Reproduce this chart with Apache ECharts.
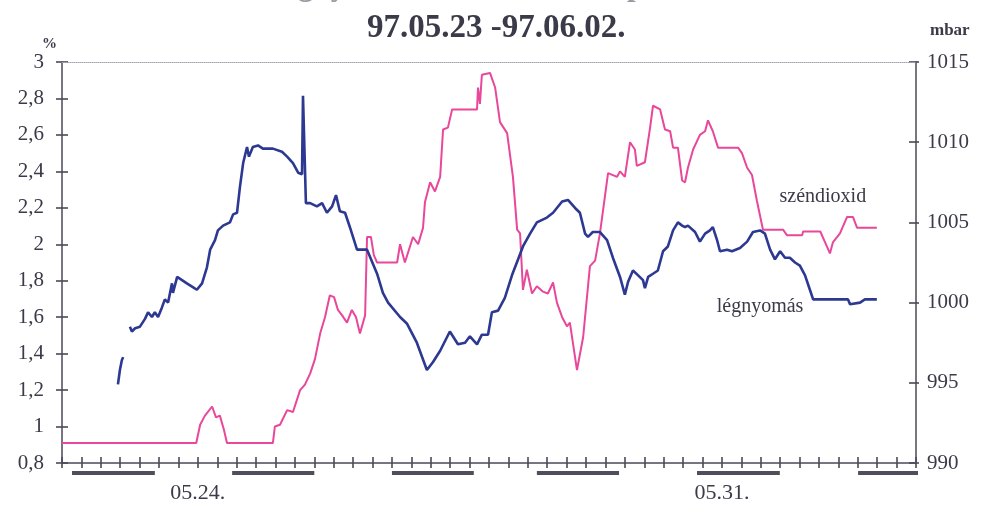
<!DOCTYPE html>
<html>
<head>
<meta charset="utf-8">
<script src="https://cdn.jsdelivr.net/npm/echarts@6/dist/echarts.min.js"></script>
<style>
  html, body { margin: 0; padding: 0; background: #fff; }
  #chart { width: 986px; height: 510px; }
</style>
</head>
<body>
<div id="chart"></div>
<script>
// Time axis in hours from 05.23 00:00 (6-hour ticks, 11 days)
const hourMax = 264;
const hourStep = 6;

// Day names shown under the time axis, keyed by hour
const dayLabelHours = [42, 204];
const dayLabelTexts = ['05.24.', '05.31.'];

// Alternating day bands drawn under the axis: [start hour, end hour]
const bandStarts = [3.1, 52.6, 102.0, 146.8, 196.3, 246.1];
const bandEnds   = [28.7, 78.0, 127.3, 172.2, 221.9, 266.6];

// Carbon dioxide, %
const co2Hours = [0, 41.5, 42.7, 44.2, 46.4, 47.6, 48.8, 50.1, 51.0, 65.2, 65.8, 67.4, 69.6, 71.4, 73.6, 75.1, 76.7, 78.2, 79.8, 81.3,
  82.8, 84.1, 85.3, 86.6, 88.1, 89.6, 90.9, 92.1, 93.7, 94.3, 95.5, 96.4, 97.4, 103.6, 104.5, 106.0, 108.5, 110.1, 111.6, 112.2,
  113.8, 115.3, 116.9, 117.8, 119.3, 120.6, 128.3, 128.6, 129.2, 129.8, 132.3, 133.9, 135.4, 137.6, 139.4, 140.7, 141.6, 142.5, 143.7, 145.3,
  146.8, 148.7, 150.2, 151.8, 153.0, 154.6, 156.1, 157.0, 159.2, 161.1, 163.2, 164.8, 166.3, 168.8, 171.6, 172.5, 174.0, 175.6, 177.1, 177.7,
  180.2, 181.8, 182.7, 184.9, 186.4, 188.0, 188.9, 190.4, 191.7, 192.6, 193.5, 195.1, 197.2, 198.8, 199.7, 201.2, 202.8, 209.0, 210.2, 211.8,
  213.3, 214.8, 216.7, 222.9, 224.1, 228.8, 229.1, 234.4, 235.9, 237.4, 238.3, 240.5, 242.7, 244.5, 245.8, 251.9];
const co2Values = [0.91, 0.91, 1.01, 1.06, 1.11, 1.05, 1.06, 0.98, 0.91, 0.91, 1.00, 1.01, 1.09, 1.08, 1.20, 1.23, 1.29, 1.37, 1.51, 1.60,
  1.72, 1.71, 1.64, 1.61, 1.57, 1.64, 1.60, 1.51, 1.61, 2.04, 2.04, 1.94, 1.90, 1.90, 2.00, 1.90, 2.04, 2.00, 2.09, 2.23,
  2.34, 2.29, 2.37, 2.63, 2.64, 2.74, 2.74, 2.86, 2.77, 2.93, 2.94, 2.86, 2.67, 2.61, 2.37, 2.08, 2.06, 1.75, 1.86, 1.73,
  1.77, 1.74, 1.73, 1.79, 1.68, 1.60, 1.55, 1.57, 1.31, 1.49, 1.88, 1.91, 2.06, 2.39, 2.37, 2.40, 2.37, 2.56, 2.52, 2.43,
  2.45, 2.64, 2.76, 2.74, 2.63, 2.62, 2.53, 2.53, 2.35, 2.34, 2.42, 2.52, 2.60, 2.62, 2.68, 2.62, 2.53, 2.53, 2.50, 2.42,
  2.38, 2.24, 2.08, 2.08, 2.05, 2.05, 2.07, 2.07, 2.01, 1.95, 2.01, 2.06, 2.15, 2.15, 2.09, 2.09];

// Air pressure, mbar (null = no reading)
const pressureHours = [17.3, 17.9, 18.5, 18.9, 20.0, 21.0, 21.6, 22.6, 24.1, 25.7, 26.6, 27.8, 28.7, 29.7, 30.9, 31.8, 32.8, 34.0, 34.3, 35.6,
  37.1, 38.6, 40.2, 41.7, 43.3, 44.8, 45.8, 47.3, 48.2, 49.8, 51.9, 52.9, 54.1, 55.0, 56.0, 57.2, 57.8, 59.0, 60.6, 62.1,
  65.2, 68.0, 69.6, 71.4, 73.0, 74.2, 74.5, 75.1, 75.4, 76.7, 78.8, 80.4, 81.9, 83.5, 84.7, 85.9, 87.5, 89.0, 91.2, 94.3,
  97.4, 99.2, 100.8, 104.5, 106.6, 109.7, 112.8, 114.7, 116.9, 119.9, 122.4, 124.6, 126.1, 128.3, 129.8, 131.7, 132.9, 134.8, 136.9, 139.1,
  141.0, 142.5, 144.7, 146.8, 149.9, 151.8, 154.6, 156.4, 158.6, 160.1, 161.7, 162.6, 164.1, 166.3, 168.5, 170.3, 172.5, 174.0, 175.0, 176.5,
  178.1, 179.6, 180.2, 181.2, 182.7, 184.2, 185.8, 187.3, 188.9, 190.4, 191.7, 192.6, 193.5, 195.7, 197.2, 198.8, 200.3, 201.2, 202.5, 203.4,
  205.6, 207.1, 209.6, 211.8, 213.6, 215.8, 217.3, 218.9, 220.4, 222.0, 223.5, 225.0, 226.6, 228.1, 229.7, 231.2, 232.2, 243.0, 243.6, 246.7,
  248.2, 251.9];
const pressureValues = [994.9, 995.8, 996.4, 996.6, null, 998.5, 998.2, 998.4, 998.5, 999.0, 999.4, 999.1, 999.4, 999.1, 999.7, 1000.2, 1000.0, 1001.2, 1000.6, 1001.6,
  1001.4, 1001.2, 1001.0, 1000.8, 1001.2, 1002.2, 1003.3, 1003.9, 1004.5, 1004.8, 1005.0, 1005.5, 1005.6, 1007.2, 1008.7, 1009.7, 1009.1, 1009.7, 1009.8, 1009.6,
  1009.6, 1009.4, 1009.1, 1008.7, 1008.1, 1008.0, 1012.9, 1012.8, 1006.2, 1006.2, 1006.0, 1006.2, 1005.6, 1006.0, 1006.7, 1005.7, 1005.6, 1004.7, 1003.3, 1003.3,
  1001.8, 1000.6, 1000.0, 999.1, 998.7, 997.5, 995.8, 996.3, 997.0, 998.2, 997.4, 997.5, 997.9, 997.4, 998.0, 998.0, 999.4, 999.5, 1000.3, 1001.7,
  1002.7, 1003.5, 1004.3, 1005.0, 1005.3, 1005.6, 1006.3, 1006.4, 1005.9, 1005.6, 1004.3, 1004.1, 1004.4, 1004.4, 1003.9, 1002.8, 1001.6, 1000.5, 1001.3, 1002.0,
  1001.7, 1001.4, 1000.9, 1001.6, 1001.8, 1002.0, 1003.2, 1003.5, 1004.5, 1005.0, 1004.8, 1004.7, 1004.8, 1004.4, 1003.8, 1004.3, 1004.5, 1004.7, 1003.9, 1003.2,
  1003.3, 1003.2, 1003.4, 1003.8, 1004.4, 1004.5, 1004.3, 1003.3, 1002.7, 1003.2, 1002.8, 1002.8, 1002.5, 1002.3, 1001.7, 1000.8, 1000.2, 1000.2, 999.9, 1000.0,
  1000.2, 1000.2];

// Series names written next to the curves, with their anchor points
const co2Name = 'széndioxid';
const pressureName = 'légnyomás';
const co2NameAt = [235.2, 2.26];
const pressureNameAt = [215.8, 999.75];

const serif = "'Liberation Serif', 'Times New Roman', serif";
const inkColor = '#3a3a48';
const axisColor = '#4a4a58';
const co2Color = '#e8479a';
const pressureColor = '#2c3891';

const zip = (xs, ys) => xs.map((x, i) => [x, ys[i] === null ? null : ys[i]]);

const bandData = [];
bandStarts.forEach((s, i) => {
  bandData.push([s, 0.5], [bandEnds[i], 0.5], [bandEnds[i], null]);
});

const dayLabelOf = v => {
  const i = dayLabelHours.indexOf(Math.round(v));
  return i >= 0 ? dayLabelTexts[i] : '';
};

// Plot frame; the small strips around it carry the cross-shaped ticks,
// drawn as split lines of copies of the three scales.
const plot = { left: 62, right: 70, top: 62, bottom: 47 };
const grids = [
  plot,                                                  // 0: curves
  { left: 62, right: 70, top: 470, height: 6 },          // 1: day bands
  { left: 56, width: 12, top: 62, bottom: 47 },          // 2: left ticks
  { left: 909, width: 10, top: 62, bottom: 47 },         // 3: right ticks
  { left: 62, right: 70, top: 457, height: 11 }          // 4: time ticks
];

const tickSplit = { show: true, lineStyle: { color: axisColor, width: 1.6, type: 'solid' } };
const bare = { axisLine: { show: false }, axisTick: { show: false }, axisLabel: { show: false } };
const blankAxis = g => ({ type: 'value', gridIndex: g, min: 0, max: 1, show: false });

const chart = echarts.init(document.getElementById('chart'), null, { renderer: 'canvas' });

chart.setOption({
  backgroundColor: '#ffffff',
  animation: false,
  title: [
    {
      text: 'A mért légnyomás és széndioxid a pincében',
      left: 174, top: -29, padding: 0,
      textStyle: { fontFamily: serif, fontWeight: 'bold', fontSize: 31, color: '#9a9aa6' }
    },
    {
      text: '97.05.23 -97.06.02.',
      left: 367, top: 12, padding: 0,
      textStyle: { fontFamily: serif, fontWeight: 'bold', fontSize: 33, color: inkColor }
    },
    {
      text: '%',
      left: 42, top: 37, padding: 0,
      textStyle: { fontFamily: serif, fontWeight: 'bold', fontSize: 15, color: inkColor }
    },
    {
      text: 'mbar',
      left: 930, top: 22, padding: 0,
      textStyle: { fontFamily: serif, fontWeight: 'bold', fontSize: 17, color: inkColor }
    }
  ],
  grid: grids,
  xAxis: [
    { // 0: time axis line and day names
      type: 'value', gridIndex: 0, min: 0, max: hourMax, interval: hourStep, position: 'bottom',
      axisLine: { show: true, onZero: false, lineStyle: { color: axisColor, width: 1.5 } },
      axisTick: { show: false },
      axisLabel: {
        show: true, margin: 19, formatter: dayLabelOf,
        fontFamily: serif, fontSize: 22, color: inkColor, showMinLabel: true, showMaxLabel: true
      },
      splitLine: { show: false }
    },
    { // 1: frame top edge
      type: 'value', gridIndex: 0, min: 0, max: hourMax, position: 'top',
      axisLine: { show: true, onZero: false, lineStyle: { color: '#a4a4b0', width: 1, type: 'dotted' } },
      axisTick: { show: false }, axisLabel: { show: false }, splitLine: { show: false }
    },
    { type: 'value', gridIndex: 1, min: 0, max: hourMax, show: false },   // 2: day bands
    blankAxis(2),                                                         // 3
    blankAxis(3),                                                         // 4
    Object.assign({ type: 'value', gridIndex: 4, min: 0, max: hourMax, interval: hourStep, splitLine: tickSplit }, bare) // 5
  ],
  yAxis: [
    { // 0: CO2 %
      type: 'value', gridIndex: 0, position: 'left', min: 0.8, max: 3, interval: 0.2,
      axisLine: { show: true, onZero: false, lineStyle: { color: axisColor, width: 1.5 } },
      axisTick: { show: false },
      axisLabel: {
        margin: 18, fontFamily: serif, fontSize: 21, color: inkColor,
        formatter: v => String(Math.round(v * 10) / 10).replace('.', ',')
      },
      splitLine: { show: false }
    },
    { // 1: pressure mbar
      type: 'value', gridIndex: 0, position: 'right', min: 990, max: 1015, interval: 5,
      axisLine: { show: true, onZero: false, lineStyle: { color: axisColor, width: 1.5 } },
      axisTick: { show: false },
      axisLabel: {
        margin: 11, fontFamily: serif, fontSize: 21, color: inkColor,
        formatter: v => String(Math.round(v))
      },
      splitLine: { show: false }
    },
    { type: 'value', gridIndex: 1, min: 0, max: 1, show: false },           // 2: day bands
    Object.assign({ type: 'value', gridIndex: 2, min: 0.8, max: 3, interval: 0.2, splitLine: tickSplit }, bare),   // 3
    Object.assign({ type: 'value', gridIndex: 3, min: 990, max: 1015, interval: 5, splitLine: tickSplit }, bare),  // 4
    blankAxis(4)                                                            // 5
  ],
  series: [
    {
      name: co2Name, type: 'line', xAxisIndex: 0, yAxisIndex: 0,
      data: zip(co2Hours, co2Values),
      symbol: 'none', smooth: false,
      lineStyle: { color: co2Color, width: 2 },
      markPoint: {
        symbol: 'circle', symbolSize: 0,
        label: { show: true, position: 'inside', formatter: co2Name, fontFamily: serif, fontSize: 20, color: inkColor },
        data: [{ coord: co2NameAt }]
      }
    },
    {
      name: pressureName, type: 'line', xAxisIndex: 0, yAxisIndex: 1,
      data: zip(pressureHours, pressureValues),
      symbol: 'none', smooth: false, connectNulls: false,
      lineStyle: { color: pressureColor, width: 2.6 },
      markPoint: {
        symbol: 'circle', symbolSize: 0,
        label: { show: true, position: 'inside', formatter: pressureName, fontFamily: serif, fontSize: 20, color: inkColor },
        data: [{ coord: pressureNameAt }]
      }
    },
    {
      name: 'napok', type: 'line', xAxisIndex: 2, yAxisIndex: 2,
      data: bandData, symbol: 'none', clip: false, connectNulls: false,
      lineStyle: { color: '#4e4e5c', width: 4 },
      silent: true
    }
  ]
});
</script>
</body>
</html>
